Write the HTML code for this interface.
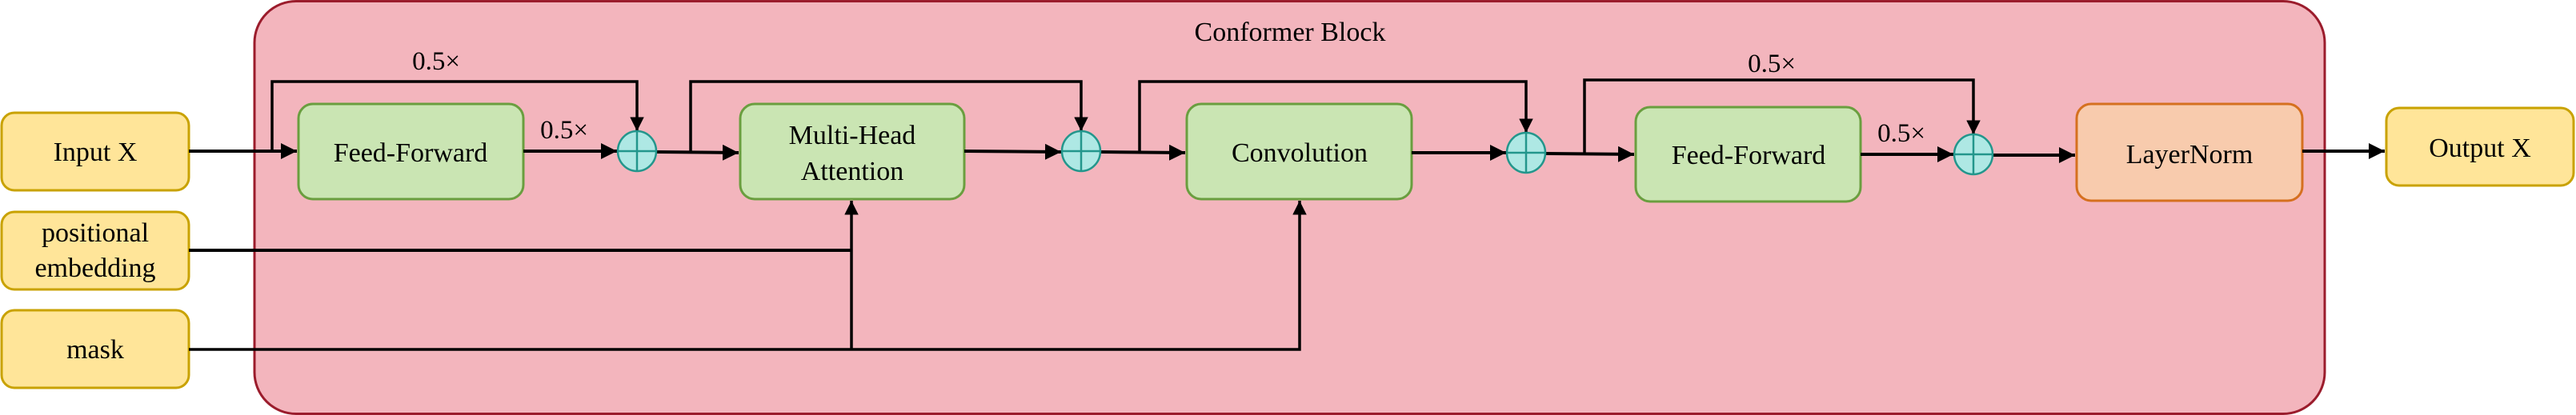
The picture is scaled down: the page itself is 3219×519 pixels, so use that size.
<!DOCTYPE html>
<html><head><meta charset="utf-8"><style>
html,body{margin:0;padding:0;background:#fff;width:3219px;height:519px;overflow:hidden}
svg{display:block}
text{font-family:"Liberation Serif",serif;fill:#000}
</style></head><body>
<svg width="3219" height="519" viewBox="0 0 3219 519" xmlns="http://www.w3.org/2000/svg">
<defs>
<marker id="a" viewBox="0 0 10 10" refX="10" refY="5" markerWidth="5" markerHeight="5" markerUnits="strokeWidth" orient="auto">
<path d="M0,0 L10,5 L0,10 z" fill="#000"/></marker>
</defs>
<rect x="318" y="1.5" width="2587" height="516" rx="52" fill="#f3b5bd" stroke="#9b1c2c" stroke-width="3"/>
<text x="1612" y="51" font-size="34" text-anchor="middle">Conformer Block</text>

<!-- inputs -->
<rect x="2" y="141" width="234" height="97" rx="16" fill="#ffe599" stroke="#c9a200" stroke-width="3"/>
<text x="119" y="201" font-size="34" text-anchor="middle">Input X</text>
<rect x="2" y="265" width="234" height="97" rx="16" fill="#ffe599" stroke="#c9a200" stroke-width="3"/>
<text x="119" y="302" font-size="34" text-anchor="middle">positional</text>
<text x="119" y="346" font-size="34" text-anchor="middle">embedding</text>
<rect x="2" y="388" width="234" height="97" rx="16" fill="#ffe599" stroke="#c9a200" stroke-width="3"/>
<text x="119" y="448" font-size="34" text-anchor="middle">mask</text>

<!-- blocks -->
<rect x="373" y="130" width="281" height="119" rx="18" fill="#cae5b3" stroke="#6a9e3f" stroke-width="3"/>
<text x="513" y="202" font-size="34" text-anchor="middle">Feed-Forward</text>
<rect x="925" y="130" width="280" height="119" rx="18" fill="#cae5b3" stroke="#6a9e3f" stroke-width="3"/>
<text x="1065" y="180" font-size="34" text-anchor="middle">Multi-Head</text>
<text x="1065" y="225" font-size="34" text-anchor="middle">Attention</text>
<rect x="1483" y="130" width="281" height="119" rx="18" fill="#cae5b3" stroke="#6a9e3f" stroke-width="3"/>
<text x="1624" y="202" font-size="34" text-anchor="middle">Convolution</text>
<rect x="2044" y="134" width="281" height="118" rx="18" fill="#cae5b3" stroke="#6a9e3f" stroke-width="3"/>
<text x="2185" y="205" font-size="34" text-anchor="middle">Feed-Forward</text>
<rect x="2595" y="130" width="282" height="121" rx="18" fill="#f8cbad" stroke="#d5701f" stroke-width="3"/>
<text x="2736" y="204" font-size="34" text-anchor="middle">LayerNorm</text>
<rect x="2982" y="135" width="234" height="97" rx="16" fill="#ffe599" stroke="#c9a200" stroke-width="3"/>
<text x="3099" y="196" font-size="34" text-anchor="middle">Output X</text>

<!-- labels -->
<text x="545" y="87" font-size="33" text-anchor="middle">0.5×</text>
<text x="705" y="173" font-size="33" text-anchor="middle">0.5×</text>
<text x="2214" y="90" font-size="33" text-anchor="middle">0.5×</text>
<text x="2376" y="177" font-size="33" text-anchor="middle">0.5×</text>

<g stroke="#000" fill="none" stroke-width="4">
<line x1="236" y1="189" x2="371" y2="189" marker-end="url(#a)"/>
<polyline points="340,189 340,102 796,102 796,164" stroke-width="3.5" marker-end="url(#a)"/>
<line x1="654" y1="189" x2="771" y2="189" marker-end="url(#a)"/>
<line x1="820" y1="190" x2="923" y2="191" marker-end="url(#a)"/>
<polyline points="863,190 863,102 1351,102 1351,164" stroke-width="3.5" marker-end="url(#a)"/>
<line x1="1205" y1="189" x2="1326" y2="190" marker-end="url(#a)"/>
<line x1="1375" y1="190" x2="1481" y2="191" marker-end="url(#a)"/>
<polyline points="1424,190 1424,102 1907,102 1907,166" stroke-width="3.5" marker-end="url(#a)"/>
<line x1="1764" y1="191" x2="1882" y2="191" marker-end="url(#a)"/>
<line x1="1931" y1="192" x2="2042" y2="193" marker-end="url(#a)"/>
<polyline points="1980,192 1980,100 2466,100 2466,168" stroke-width="3.5" marker-end="url(#a)"/>
<line x1="2325" y1="193" x2="2441" y2="193" marker-end="url(#a)"/>
<line x1="2490" y1="194" x2="2593" y2="194" marker-end="url(#a)"/>
<line x1="2877" y1="189" x2="2980" y2="189" marker-end="url(#a)"/>
<polyline points="236,313 1064,313"/>
<line x1="1064" y1="437" x2="1064" y2="251" stroke-width="3.5" marker-end="url(#a)"/>
<polyline points="236,437 1624,437 1624,251" stroke-width="3.5" marker-end="url(#a)"/>
</g>

<!-- plus circles -->
<g fill="#aee8e4" stroke="#23968c" stroke-width="2.5">
<ellipse cx="796" cy="189" rx="24" ry="25"/>
<line x1="772" y1="189" x2="820" y2="189"/><line x1="796" y1="164" x2="796" y2="214"/>
<ellipse cx="1351" cy="189" rx="24" ry="25"/>
<line x1="1327" y1="189" x2="1375" y2="189"/><line x1="1351" y1="164" x2="1351" y2="214"/>
<ellipse cx="1907" cy="191" rx="24" ry="25"/>
<line x1="1883" y1="191" x2="1931" y2="191"/><line x1="1907" y1="166" x2="1907" y2="216"/>
<ellipse cx="2466" cy="193" rx="24" ry="25"/>
<line x1="2442" y1="193" x2="2490" y2="193"/><line x1="2466" y1="168" x2="2466" y2="218"/>
</g>
</svg>
</body></html>
